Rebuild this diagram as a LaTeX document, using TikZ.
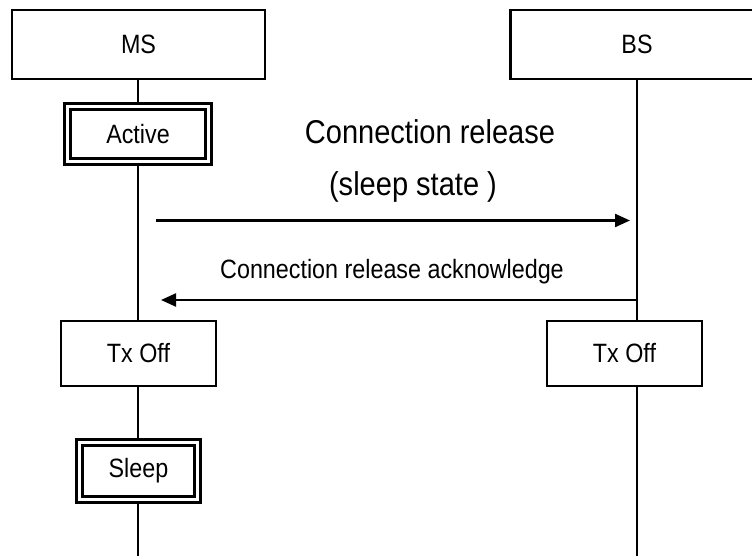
\documentclass[tikz,border=0pt]{standalone}
\usepackage{fontspec}
\setmainfont{Liberation Sans}
\newfontfamily\narrowsans[FakeStretch=0.88]{Liberation Sans}
\usetikzlibrary{arrows.meta,backgrounds}
\begin{document}
\begin{tikzpicture}[x=1pt,y=-1pt,
  box/.style={draw,line width=2.3pt,fill=white,inner sep=0pt,font=\narrowsans\fontsize{26.5}{30}\selectfont},
  dbox/.style={draw,line width=3.1pt,double,double distance=2.6pt,inner sep=0pt,font=\narrowsans\fontsize{26.5}{30}\selectfont},
  life/.style={line width=2.3pt},
  msg/.style={line width=2.3pt,-{Triangle[length=15pt,width=13pt]}},
  lbl/.style={font=\narrowsans\fontsize{26.5}{30}\selectfont,anchor=base},
  biglbl/.style={font=\narrowsans\fontsize{33}{38}\selectfont,anchor=base}]
\useasboundingbox (0,0) rectangle (752,556);
\clip (0,0) rectangle (752,556);
\node[box,minimum width=253pt,minimum height=69pt] (ms) at (138.5,44.5) {MS};
\node[box,minimum width=253pt,minimum height=69pt] (bs) at (637,44.5) {BS};
\node[dbox,minimum width=141pt,minimum height=54.5pt] (active) at (138,134) {Active};
\node[box,minimum width=155pt,minimum height=65pt] (txl) at (138.5,353.5) {Tx Off};
\node[box,minimum width=155pt,minimum height=65pt] (txr) at (624.5,353.5) {Tx Off};
\node[dbox,minimum width=118pt,minimum height=57pt] (sleep) at (138.5,471) {Sleep};
\coordinate (msend) at (138,556);
\coordinate (bsend) at (637,556);
\begin{scope}[on background layer]
\draw[life] (ms.south -| active.north) -- (active.north);
\draw[life] (active.south) -- (active.south |- txl.north);
\draw[life] (active.south |- txl.south) -- (active.south |- sleep.north);
\draw[life] (active.south |- sleep.south) -- (msend);
\draw[life] (bs.south) -- (bs.south |- txr.north);
\draw[life] (bs.south |- txr.south) -- (bsend);
\end{scope}
\coordinate (m1s) at (155.5,220.5);
\coordinate (m1e) at (630,220.5);
\coordinate (m2s) at (637,300);
\coordinate (m2e) at (161,300);
\draw[msg] (m1s) -- (m1e);
\draw[msg] (m2s) -- (m2e);
\node[biglbl] (l1) at (430,144) {Connection release};
\node[biglbl] (l2) at (413,196) {(sleep state )};
\node[lbl] (l3) at (392,278) {Connection release acknowledge};
\end{tikzpicture}
\end{document}
